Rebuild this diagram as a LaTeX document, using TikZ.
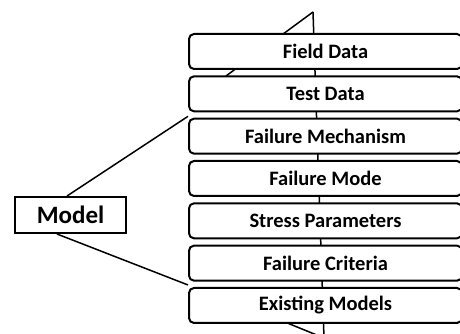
\documentclass[tikz,border=0pt]{standalone}
\usepackage{fontspec}
\setmainfont{Carlito}
\usetikzlibrary{positioning}

\begin{document}
\begin{tikzpicture}[x=1pt,y=-1pt,
    inbox/.style={draw=black,fill=white,rounded corners=5pt,line width=2pt,
        minimum width=273pt,minimum height=35pt,inner sep=0pt,
        font=\fontsize{20.5}{24}\selectfont\bfseries},
    modelbox/.style={draw=black,fill=white,line width=2pt,
        minimum width=111pt,minimum height=36pt,inner sep=0pt,
        font=\fontsize{25}{28}\selectfont\bfseries},
    link/.style={draw=black,line width=1.5pt},
    node distance=5.33pt
]
\useasboundingbox (0,0) rectangle (460,334);
\clip (0,0) rectangle (460,334);
% spine behind the stack
\coordinate (apex) at (313,12);
\coordinate (foot) at (324,338);
\coordinate (topend) at (226,76);
\coordinate (botend) at (280,320);
\draw[link] (apex)--(foot);
\draw[link] (apex)--(topend);
\draw[link] (foot)--(botend);
% stack of inputs
\node[inbox] (field) at (325.5,51.5) {Field Data};
\node[inbox,below=of field] (test) {Test Data};
\node[inbox,below=of test] (mech) {Failure Mechanism};
\node[inbox,below=of mech] (mode) {Failure Mode};
\node[inbox,below=of mode] (stress) {Stress Parameters};
\node[inbox,below=of stress] (criteria) {Failure Criteria};
\node[inbox,below=of criteria] (existing) {Existing Models};
% model
\node[modelbox] (model) at (70.5,215) {Model};
\draw[link] ([xshift=-3.5pt]model.north)--([yshift=-4pt]test.south west);
\draw[link] ([xshift=-13.5pt]model.south)--([yshift=2pt]existing.north west);
\end{tikzpicture}
\end{document}
